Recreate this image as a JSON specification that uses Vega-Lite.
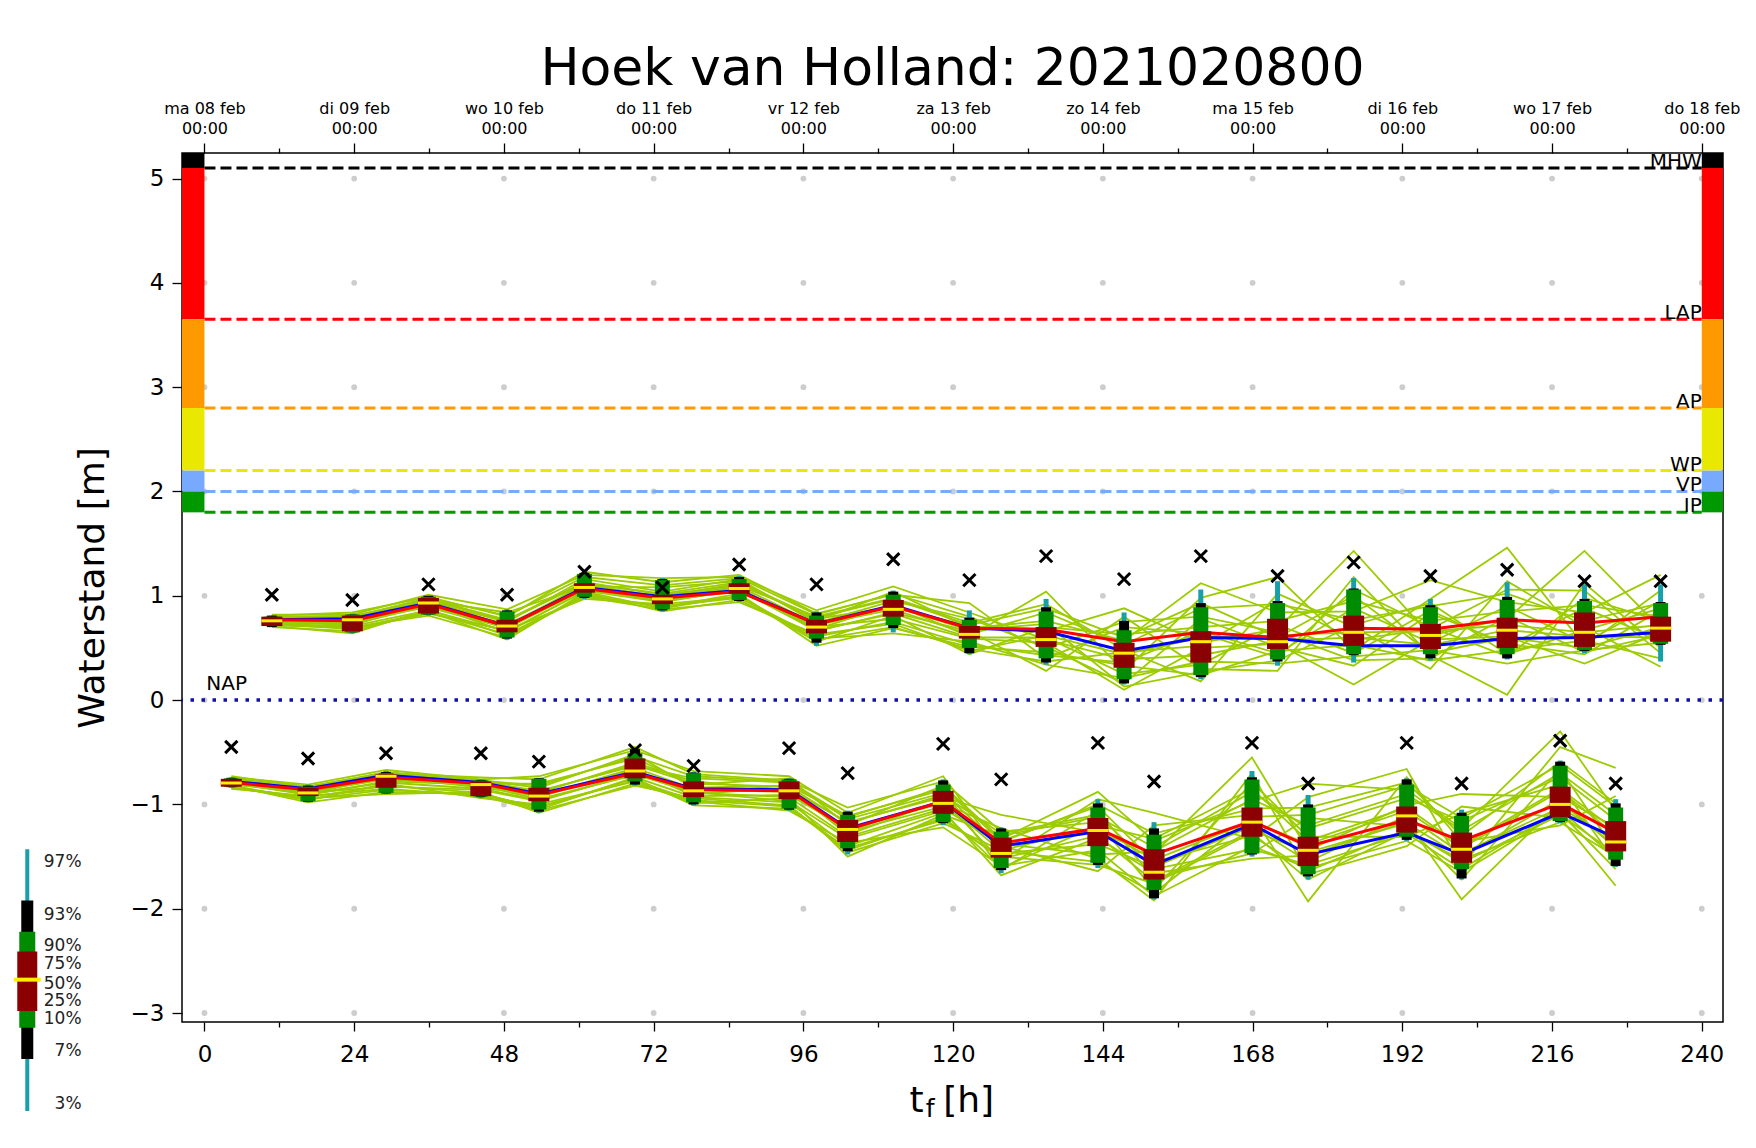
{
"$schema":"https://vega.github.io/schema/vega-lite/v6.json",
"width":1541,"height":869,
"autosize":{"type":"none"},
"padding":{"left":182,"top":153,"right":33,"bottom":126},
"background":"white",
"config":{"view":{"stroke":"black","strokeWidth":1.5},"font":"DejaVu Sans","axis":{"labelFont":"DejaVu Sans","titleFont":"DejaVu Sans","domain":false,"grid":false,"tickColor":"black","tickWidth":1.3,"labelColor":"black","titleColor":"black","labelOverlap":false,"labelFlush":false}},
"title":{"text":"Hoek van Holland: 2021020800","fontSize":52,"font":"DejaVu Sans","fontWeight":"normal","anchor":"middle","offset":4,"color":"black"},
"datasets":{
"grid":[{"gx":0,"gy":[-3,-2,-1,0,1,2,3,4,5]},{"gx":24,"gy":[-3,-2,-1,0,1,2,3,4,5]},{"gx":48,"gy":[-3,-2,-1,0,1,2,3,4,5]},{"gx":72,"gy":[-3,-2,-1,0,1,2,3,4,5]},{"gx":96,"gy":[-3,-2,-1,0,1,2,3,4,5]},{"gx":120,"gy":[-3,-2,-1,0,1,2,3,4,5]},{"gx":144,"gy":[-3,-2,-1,0,1,2,3,4,5]},{"gx":168,"gy":[-3,-2,-1,0,1,2,3,4,5]},{"gx":192,"gy":[-3,-2,-1,0,1,2,3,4,5]},{"gx":216,"gy":[-3,-2,-1,0,1,2,3,4,5]},{"gx":240,"gy":[-3,-2,-1,0,1,2,3,4,5]}],
"yt":[{"yv":-3},{"yv":-2.5},{"yv":-2},{"yv":-1.5},{"yv":-1},{"yv":-0.5},{"yv":0},{"yv":0.5},{"yv":1},{"yv":1.5},{"yv":2},{"yv":2.5},{"yv":3},{"yv":3.5},{"yv":4},{"yv":4.5},{"yv":5}],
"lv":[{"name":"MHW","y":5.1},{"name":"LAP","y":3.65},{"name":"AP","y":2.8},{"name":"WP","y":2.2},{"name":"VP","y":2.0},{"name":"IP","y":1.8}],
"bands":[{"name":"MHW","lo":5.1,"hi":5.245},{"name":"LAP","lo":3.65,"hi":5.1},{"name":"AP","lo":2.8,"hi":3.65},{"name":"WP","lo":2.2,"hi":2.8},{"name":"VP","lo":2.0,"hi":2.2},{"name":"IP","lo":1.8,"hi":2.0}],
"bx":[
{"s":"H","t":10.8,"p3":0.70,"p7":0.70,"p10":0.71,"p25":0.71,"p50":0.76,"p75":0.80,"p90":0.80,"p93":0.81,"p97":0.81,"red":0.77,"blue":0.77,"cross":1.01},
{"s":"H","t":23.7,"p3":0.64,"p7":0.65,"p10":0.65,"p25":0.66,"p50":0.77,"p75":0.81,"p90":0.82,"p93":0.82,"p97":0.83,"red":0.76,"blue":0.78,"cross":0.96},
{"s":"H","t":35.9,"p3":0.81,"p7":0.82,"p10":0.82,"p25":0.83,"p50":0.93,"p75":0.98,"p90":0.99,"p93":1.0,"p97":1.0,"red":0.92,"blue":0.93,"cross":1.11},
{"s":"H","t":48.5,"p3":0.58,"p7":0.59,"p10":0.60,"p25":0.65,"p50":0.71,"p75":0.77,"p90":0.85,"p93":0.86,"p97":0.87,"red":0.71,"blue":0.71,"cross":1.01},
{"s":"H","t":60.9,"p3":0.97,"p7":0.98,"p10":0.99,"p25":1.03,"p50":1.08,"p75":1.12,"p90":1.21,"p93":1.22,"p97":1.23,"red":1.07,"blue":1.08,"cross":1.23},
{"s":"H","t":73.4,"p3":0.85,"p7":0.86,"p10":0.87,"p25":0.92,"p50":0.97,"p75":1.01,"p90":1.15,"p93":1.16,"p97":1.17,"red":0.98,"blue":0.99,"cross":1.08},
{"s":"H","t":85.7,"p3":0.94,"p7":0.95,"p10":0.96,"p25":1.02,"p50":1.07,"p75":1.12,"p90":1.16,"p93":1.18,"p97":1.19,"red":1.04,"blue":1.05,"cross":1.30},
{"s":"H","t":98.1,"p3":0.52,"p7":0.55,"p10":0.59,"p25":0.64,"p50":0.70,"p75":0.77,"p90":0.81,"p93":0.84,"p97":0.85,"red":0.73,"blue":0.73,"cross":1.11},
{"s":"H","t":110.4,"p3":0.65,"p7":0.69,"p10":0.72,"p25":0.80,"p50":0.87,"p75":0.96,"p90":1.01,"p93":1.04,"p97":1.05,"red":0.90,"blue":0.91,"cross":1.35},
{"s":"H","t":122.6,"p3":0.44,"p7":0.45,"p10":0.50,"p25":0.59,"p50":0.63,"p75":0.71,"p90":0.77,"p93":0.79,"p97":0.86,"red":0.69,"blue":0.69,"cross":1.15},
{"s":"H","t":134.9,"p3":0.34,"p7":0.36,"p10":0.40,"p25":0.51,"p50":0.58,"p75":0.70,"p90":0.85,"p93":0.89,"p97":0.97,"red":0.68,"blue":0.66,"cross":1.38},
{"s":"H","t":147.4,"p3":0.15,"p7":0.16,"p10":0.20,"p25":0.31,"p50":0.45,"p75":0.55,"p90":0.67,"p93":0.76,"p97":0.84,"red":0.56,"blue":0.47,"cross":1.16},
{"s":"H","t":159.7,"p3":0.20,"p7":0.22,"p10":0.24,"p25":0.36,"p50":0.56,"p75":0.66,"p90":0.89,"p93":0.93,"p97":1.06,"red":0.65,"blue":0.60,"cross":1.38},
{"s":"H","t":172.0,"p3":0.33,"p7":0.37,"p10":0.39,"p25":0.49,"p50":0.56,"p75":0.78,"p90":0.93,"p93":0.95,"p97":1.14,"red":0.60,"blue":0.59,"cross":1.19},
{"s":"H","t":184.2,"p3":0.36,"p7":0.43,"p10":0.44,"p25":0.52,"p50":0.65,"p75":0.81,"p90":1.06,"p93":1.07,"p97":1.17,"red":0.69,"blue":0.52,"cross":1.32},
{"s":"H","t":196.5,"p3":0.38,"p7":0.40,"p10":0.44,"p25":0.49,"p50":0.62,"p75":0.73,"p90":0.89,"p93":0.91,"p97":0.97,"red":0.68,"blue":0.52,"cross":1.19},
{"s":"H","t":208.8,"p3":0.39,"p7":0.40,"p10":0.44,"p25":0.50,"p50":0.67,"p75":0.79,"p90":0.96,"p93":0.99,"p97":1.13,"red":0.77,"blue":0.59,"cross":1.25},
{"s":"H","t":221.2,"p3":0.45,"p7":0.47,"p10":0.48,"p25":0.51,"p50":0.65,"p75":0.84,"p90":0.95,"p93":0.97,"p97":1.11,"red":0.74,"blue":0.60,"cross":1.14},
{"s":"H","t":233.4,"p3":0.37,"p7":0.53,"p10":0.54,"p25":0.56,"p50":0.69,"p75":0.80,"p90":0.93,"p93":0.94,"p97":1.11,"red":0.80,"blue":0.65,"cross":1.14},
{"s":"L","t":4.3,"p3":-0.84,"p7":-0.835,"p10":-0.83,"p25":-0.83,"p50":-0.795,"p75":-0.755,"p90":-0.75,"p93":-0.745,"p97":-0.74,"red":-0.79,"blue":-0.78,"cross":-0.45},
{"s":"L","t":16.6,"p3":-0.98,"p7":-0.975,"p10":-0.97,"p25":-0.92,"p50":-0.89,"p75":-0.84,"p90":-0.83,"p93":-0.82,"p97":-0.81,"red":-0.86,"blue":-0.85,"cross":-0.56},
{"s":"L","t":29.1,"p3":-0.90,"p7":-0.895,"p10":-0.89,"p25":-0.84,"p50":-0.73,"p75":-0.71,"p90":-0.70,"p93":-0.69,"p97":-0.68,"red":-0.74,"blue":-0.72,"cross":-0.51},
{"s":"L","t":44.3,"p3":-0.94,"p7":-0.93,"p10":-0.925,"p25":-0.92,"p50":-0.81,"p75":-0.78,"p90":-0.77,"p93":-0.765,"p97":-0.76,"red":-0.80,"blue":-0.79,"cross":-0.51},
{"s":"L","t":53.6,"p3":-1.08,"p7":-1.07,"p10":-1.05,"p25":-0.97,"p50":-0.92,"p75":-0.84,"p90":-0.755,"p93":-0.75,"p97":-0.745,"red":-0.91,"blue":-0.90,"cross":-0.59},
{"s":"L","t":69.0,"p3":-0.82,"p7":-0.81,"p10":-0.78,"p25":-0.75,"p50":-0.68,"p75":-0.56,"p90":-0.51,"p93":-0.47,"p97":-0.46,"red":-0.70,"blue":-0.69,"cross":-0.48},
{"s":"L","t":78.4,"p3":-1.01,"p7":-1.0,"p10":-0.98,"p25":-0.93,"p50":-0.87,"p75":-0.78,"p90":-0.70,"p93":-0.695,"p97":-0.69,"red":-0.86,"blue":-0.85,"cross":-0.63},
{"s":"L","t":93.7,"p3":-1.06,"p7":-1.05,"p10":-1.04,"p25":-0.95,"p50":-0.87,"p75":-0.78,"p90":-0.76,"p93":-0.755,"p97":-0.75,"red":-0.87,"blue":-0.86,"cross":-0.46},
{"s":"L","t":103.1,"p3":-1.48,"p7":-1.45,"p10":-1.42,"p25":-1.36,"p50":-1.24,"p75":-1.15,"p90":-1.10,"p93":-1.07,"p97":-1.06,"red":-1.24,"blue":-1.23,"cross":-0.70},
{"s":"L","t":118.4,"p3":-1.20,"p7":-1.18,"p10":-1.17,"p25":-1.09,"p50":-0.99,"p75":-0.87,"p90":-0.81,"p93":-0.77,"p97":-0.76,"red":-0.97,"blue":-0.97,"cross":-0.42},
{"s":"L","t":127.7,"p3":-1.66,"p7":-1.63,"p10":-1.61,"p25":-1.51,"p50":-1.47,"p75":-1.32,"p90":-1.26,"p93":-1.23,"p97":-1.22,"red":-1.37,"blue":-1.40,"cross":-0.76},
{"s":"L","t":143.2,"p3":-1.61,"p7":-1.58,"p10":-1.56,"p25":-1.40,"p50":-1.25,"p75":-1.13,"p90":-1.03,"p93":-0.99,"p97":-0.95,"red":-1.23,"blue":-1.26,"cross":-0.41},
{"s":"L","t":152.2,"p3":-1.91,"p7":-1.90,"p10":-1.82,"p25":-1.72,"p50":-1.65,"p75":-1.43,"p90":-1.29,"p93":-1.23,"p97":-1.17,"red":-1.48,"blue":-1.58,"cross":-0.78},
{"s":"L","t":167.9,"p3":-1.50,"p7":-1.48,"p10":-1.47,"p25":-1.31,"p50":-1.17,"p75":-1.03,"p90":-0.76,"p93":-0.74,"p97":-0.68,"red":-1.16,"blue":-1.19,"cross":-0.41},
{"s":"L","t":176.9,"p3":-1.72,"p7":-1.69,"p10":-1.67,"p25":-1.59,"p50":-1.44,"p75":-1.31,"p90":-1.03,"p93":-1.00,"p97":-0.91,"red":-1.40,"blue":-1.48,"cross":-0.80},
{"s":"L","t":192.7,"p3":-1.35,"p7":-1.34,"p10":-1.31,"p25":-1.27,"p50":-1.11,"p75":-1.02,"p90":-0.81,"p93":-0.76,"p97":-0.75,"red":-1.15,"blue":-1.27,"cross":-0.41},
{"s":"L","t":201.5,"p3":-1.72,"p7":-1.71,"p10":-1.62,"p25":-1.56,"p50":-1.43,"p75":-1.27,"p90":-1.11,"p93":-1.08,"p97":-1.05,"red":-1.35,"blue":-1.48,"cross":-0.80},
{"s":"L","t":217.3,"p3":-1.18,"p7":-1.17,"p10":-1.16,"p25":-1.12,"p50":-1.00,"p75":-0.83,"p90":-0.63,"p93":-0.59,"p97":-0.58,"red":-0.99,"blue":-1.08,"cross":-0.39},
{"s":"L","t":226.2,"p3":-1.60,"p7":-1.59,"p10":-1.53,"p25":-1.45,"p50":-1.36,"p75":-1.16,"p90":-1.03,"p93":-0.99,"p97":-0.95,"red":-1.27,"blue":-1.32,"cross":-0.80}
],
"ens":[
{"s":"H","t":10.8,"a":0.70,"b":0.71,"c":0.72,"d":0.73,"e":0.74,"f":0.75,"g":0.76,"h":0.76,"i":0.77,"j":0.78,"k":0.79,"l":0.80,"m":0.81,"n":0.82,"o":0.72,"p":0.75,"q":0.78,"r":0.73,"u":0.77,"w":0.80},
{"s":"H","t":23.7,"a":0.66,"b":0.64,"c":0.70,"d":0.68,"e":0.74,"f":0.72,"g":0.77,"h":0.75,"i":0.79,"j":0.78,"k":0.81,"l":0.80,"m":0.84,"n":0.82,"o":0.69,"p":0.73,"q":0.79,"r":0.71,"u":0.76,"w":0.80},
{"s":"H","t":35.9,"a":0.85,"b":0.87,"c":0.81,"d":0.83,"e":0.92,"f":0.93,"g":0.89,"h":0.91,"i":0.96,"j":0.97,"k":0.94,"l":0.95,"m":0.99,"n":1.01,"o":0.84,"p":0.90,"q":0.96,"r":0.86,"u":0.93,"w":0.98},
{"s":"H","t":48.5,"a":0.58,"b":0.62,"c":0.60,"d":0.67,"e":0.65,"f":0.70,"g":0.69,"h":0.73,"i":0.71,"j":0.77,"k":0.75,"l":0.84,"m":0.80,"n":0.87,"o":0.63,"p":0.69,"q":0.76,"r":0.66,"u":0.72,"w":0.81},
{"s":"H","t":60.9,"a":1.03,"b":0.99,"c":1.01,"d":0.97,"e":1.05,"f":1.07,"g":1.08,"h":1.06,"i":1.11,"j":1.13,"k":1.16,"l":1.09,"m":1.23,"n":1.20,"o":1.00,"p":1.06,"q":1.12,"r":1.04,"u":1.09,"w":1.18},
{"s":"H","t":73.4,"a":0.85,"b":0.87,"c":0.89,"d":0.92,"e":0.94,"f":0.96,"g":0.97,"h":0.98,"i":0.99,"j":1.01,"k":1.04,"l":1.08,"m":1.13,"n":1.17,"o":0.90,"p":0.95,"q":1.02,"r":0.88,"u":0.99,"w":1.10},
{"s":"H","t":85.7,"a":0.96,"b":0.94,"c":1.02,"d":0.99,"e":1.06,"f":1.04,"g":1.08,"h":1.07,"i":1.12,"j":1.10,"k":1.16,"l":1.14,"m":1.20,"n":1.18,"o":0.98,"p":1.05,"q":1.13,"r":1.00,"u":1.09,"w":1.17},
{"s":"H","t":98.1,"a":0.59,"b":0.63,"c":0.52,"d":0.56,"e":0.70,"f":0.72,"g":0.66,"h":0.68,"i":0.78,"j":0.80,"k":0.74,"l":0.76,"m":0.83,"n":0.86,"o":0.61,"p":0.67,"q":0.79,"r":0.58,"u":0.73,"w":0.82},
{"s":"H","t":110.4,"a":0.64,"b":0.73,"c":0.69,"d":0.81,"e":0.78,"f":0.87,"g":0.84,"h":0.92,"i":0.89,"j":0.98,"k":0.95,"l":1.04,"m":1.01,"n":1.09,"o":0.75,"p":0.83,"q":0.97,"r":0.70,"u":0.90,"w":1.02},
{"s":"H","t":122.6,"a":0.56,"b":0.47,"c":0.51,"d":0.44,"e":0.59,"f":0.63,"g":0.66,"h":0.61,"i":0.71,"j":0.74,"k":0.78,"l":0.69,"m":0.93,"n":0.84,"o":0.53,"p":0.60,"q":0.72,"r":0.49,"u":0.67,"w":0.80},
{"s":"H","t":134.9,"a":0.34,"b":0.62,"c":0.46,"d":0.70,"e":0.55,"f":0.84,"g":0.28,"h":1.04,"i":0.66,"j":0.92,"k":0.51,"l":0.76,"m":0.40,"n":0.58,"o":0.43,"p":0.60,"q":0.88,"r":0.37,"u":0.73,"w":0.50},
{"s":"H","t":147.4,"a":0.21,"b":0.44,"c":0.33,"d":0.63,"e":0.10,"f":0.53,"g":0.80,"h":0.28,"i":0.88,"j":0.48,"k":0.16,"l":0.57,"m":0.70,"n":0.39,"o":0.36,"p":0.25,"q":0.60,"r":0.46,"u":0.13,"w":0.75},
{"s":"H","t":159.7,"a":0.37,"b":0.60,"c":0.24,"d":0.70,"e":0.50,"f":0.88,"g":0.30,"h":0.98,"i":0.55,"j":0.18,"k":0.78,"l":1.12,"m":0.64,"n":0.43,"o":0.66,"p":0.34,"q":0.93,"r":0.52,"u":0.27,"w":0.80},
{"s":"H","t":172.0,"a":0.35,"b":0.62,"c":0.47,"d":0.76,"e":0.54,"f":0.92,"g":0.28,"h":1.18,"i":0.68,"j":1.02,"k":0.51,"l":0.84,"m":0.41,"n":0.57,"o":0.45,"p":0.72,"q":0.60,"r":0.95,"u":0.38,"w":0.65},
{"s":"H","t":184.2,"a":0.42,"b":0.65,"c":0.53,"d":0.95,"e":0.15,"f":0.77,"g":1.18,"h":0.48,"i":1.43,"j":0.70,"k":0.33,"l":0.85,"m":1.06,"n":0.60,"o":0.88,"p":0.45,"q":1.00,"r":0.58,"u":0.72,"w":0.38},
{"s":"H","t":196.5,"a":0.48,"b":0.66,"c":0.38,"d":0.76,"e":0.58,"f":0.90,"g":0.43,"h":0.97,"i":0.62,"j":0.30,"k":0.83,"l":1.15,"m":0.70,"n":0.53,"o":0.55,"p":0.86,"q":0.45,"r":0.68,"u":0.93,"w":0.40},
{"s":"H","t":208.8,"a":0.35,"b":0.72,"c":0.48,"d":0.85,"e":0.61,"f":1.02,"g":0.05,"h":1.46,"i":0.78,"j":1.14,"k":0.54,"l":0.94,"m":0.42,"n":0.67,"o":0.90,"p":0.52,"q":0.60,"r":1.06,"u":0.44,"w":0.80},
{"s":"H","t":221.2,"a":0.48,"b":0.65,"c":0.57,"d":0.91,"e":0.35,"f":0.76,"g":1.12,"h":0.52,"i":1.43,"j":0.70,"k":0.44,"l":0.84,"m":0.98,"n":0.61,"o":0.55,"p":0.88,"q":0.50,"r":1.05,"u":0.67,"w":0.46},
{"s":"H","t":233.4,"a":0.55,"b":0.72,"c":0.40,"d":0.80,"e":0.65,"f":0.93,"g":0.50,"h":1.05,"i":0.69,"j":0.32,"k":0.86,"l":1.20,"m":0.76,"n":0.60,"o":0.95,"p":0.58,"q":0.70,"r":0.45,"u":0.88,"w":0.62},
{"s":"L","t":4.3,"a":-0.84,"b":-0.85,"c":-0.82,"d":-0.83,"e":-0.80,"f":-0.81,"g":-0.79,"h":-0.79,"i":-0.77,"j":-0.78,"k":-0.75,"l":-0.76,"m":-0.73,"n":-0.74,"o":-0.82,"p":-0.80,"q":-0.77,"r":-0.84,"u":-0.78,"w":-0.75},
{"s":"L","t":16.6,"a":-0.94,"b":-0.92,"c":-0.98,"d":-0.96,"e":-0.89,"f":-0.88,"g":-0.91,"h":-0.90,"i":-0.85,"j":-0.84,"k":-0.87,"l":-0.86,"m":-0.83,"n":-0.81,"o":-0.95,"p":-0.90,"q":-0.85,"r":-0.93,"u":-0.88,"w":-0.83},
{"s":"L","t":29.1,"a":-0.90,"b":-0.85,"c":-0.88,"d":-0.80,"e":-0.83,"f":-0.76,"g":-0.78,"h":-0.73,"i":-0.74,"j":-0.71,"k":-0.72,"l":-0.69,"m":-0.70,"n":-0.67,"o":-0.86,"p":-0.79,"q":-0.72,"r":-0.82,"u":-0.75,"w":-0.69},
{"s":"L","t":44.3,"a":-0.88,"b":-0.92,"c":-0.90,"d":-0.94,"e":-0.86,"f":-0.82,"g":-0.81,"h":-0.84,"i":-0.79,"j":-0.78,"k":-0.77,"l":-0.80,"m":-0.74,"n":-0.76,"o":-0.91,"p":-0.85,"q":-0.79,"r":-0.89,"u":-0.82,"w":-0.77},
{"s":"L","t":53.6,"a":-1.08,"b":-1.06,"c":-1.03,"d":-1.00,"e":-0.97,"f":-0.95,"g":-0.93,"h":-0.91,"i":-0.89,"j":-0.87,"k":-0.84,"l":-0.80,"m":-0.76,"n":-0.73,"o":-1.02,"p":-0.96,"q":-0.88,"r":-1.05,"u":-0.92,"w":-0.82},
{"s":"L","t":69.0,"a":-0.80,"b":-0.82,"c":-0.75,"d":-0.78,"e":-0.70,"f":-0.72,"g":-0.66,"h":-0.68,"i":-0.60,"j":-0.63,"k":-0.52,"l":-0.56,"m":-0.45,"n":-0.48,"o":-0.77,"p":-0.71,"q":-0.62,"r":-0.74,"u":-0.65,"w":-0.54},
{"s":"L","t":78.4,"a":-0.97,"b":-0.94,"c":-1.01,"d":-0.99,"e":-0.88,"f":-0.86,"g":-0.92,"h":-0.90,"i":-0.78,"j":-0.75,"k":-0.84,"l":-0.81,"m":-0.71,"n":-0.68,"o":-0.96,"p":-0.89,"q":-0.80,"r":-0.93,"u":-0.85,"w":-0.73},
{"s":"L","t":93.7,"a":-1.06,"b":-1.01,"c":-1.04,"d":-0.94,"e":-0.97,"f":-0.88,"g":-0.91,"h":-0.84,"i":-0.86,"j":-0.79,"k":-0.82,"l":-0.75,"m":-0.77,"n":-0.73,"o":-1.02,"p":-0.93,"q":-0.83,"r":-0.98,"u":-0.87,"w":-0.78},
{"s":"L","t":103.1,"a":-1.37,"b":-1.46,"c":-1.42,"d":-1.50,"e":-1.33,"f":-1.26,"g":-1.23,"h":-1.29,"i":-1.17,"j":-1.14,"k":-1.11,"l":-1.20,"m":-1.03,"n":-1.08,"o":-1.44,"p":-1.31,"q":-1.18,"r":-1.40,"u":-1.25,"w":-1.12},
{"s":"L","t":118.4,"a":-1.22,"b":-1.18,"c":-1.15,"d":-1.10,"e":-1.06,"f":-1.02,"g":-0.99,"h":-0.96,"i":-0.93,"j":-0.89,"k":-0.86,"l":-0.82,"m":-0.78,"n":-0.73,"o":-1.13,"p":-1.04,"q":-0.91,"r":-1.08,"u":-0.97,"w":-0.84},
{"s":"L","t":127.7,"a":-1.59,"b":-1.44,"c":-1.50,"d":-1.30,"e":-1.68,"f":-1.36,"g":-1.23,"h":-1.54,"i":-1.10,"j":-1.40,"k":-1.63,"l":-1.33,"m":-1.26,"n":-1.47,"o":-1.52,"p":-1.38,"q":-1.28,"r":-1.61,"u":-1.45,"w":-1.35},
{"s":"L","t":143.2,"a":-1.44,"b":-1.22,"c":-1.58,"d":-1.12,"e":-1.32,"f":-1.00,"g":-1.52,"h":-0.95,"i":-1.27,"j":-1.64,"k":-1.06,"l":-0.88,"m":-1.17,"n":-1.38,"o":-1.30,"p":-1.48,"q":-1.10,"r":-1.20,"u":-1.55,"w":-1.02},
{"s":"L","t":152.2,"a":-1.88,"b":-1.53,"c":-1.76,"d":-1.41,"e":-1.66,"f":-1.28,"g":-1.92,"h":-1.08,"i":-1.47,"j":-1.20,"k":-1.71,"l":-1.35,"m":-1.82,"n":-1.60,"o":-1.74,"p":-1.45,"q":-1.62,"r":-1.33,"u":-1.85,"w":-1.55},
{"s":"L","t":167.9,"a":-1.40,"b":-1.16,"c":-1.27,"d":-0.88,"e":-1.52,"f":-1.04,"g":-0.70,"h":-1.33,"i":-0.55,"j":-1.10,"k":-1.47,"l":-0.97,"m":-0.79,"n":-1.21,"o":-1.25,"p":-0.95,"q":-1.43,"r":-0.85,"u":-1.12,"w":-1.30},
{"s":"L","t":176.9,"a":-1.61,"b":-1.38,"c":-1.72,"d":-1.23,"e":-1.49,"f":-1.03,"g":-1.67,"h":-0.93,"i":-1.44,"j":-1.93,"k":-1.13,"l":-0.80,"m":-1.31,"n":-1.55,"o":-1.46,"p":-1.20,"q":-1.58,"r":-1.35,"u":-1.10,"w":-1.64},
{"s":"L","t":192.7,"a":-1.35,"b":-1.06,"c":-1.26,"d":-0.94,"e":-1.16,"f":-0.79,"g":-1.40,"h":-0.66,"i":-1.01,"j":-0.74,"k":-1.21,"l":-0.86,"m":-1.31,"n":-1.11,"o":-1.18,"p":-0.90,"q":-1.28,"r":-1.03,"u":-0.82,"w":-1.24},
{"s":"L","t":201.5,"a":-1.65,"b":-1.42,"c":-1.53,"d":-1.16,"e":-1.91,"f":-1.30,"g":-1.02,"h":-1.59,"i":-0.90,"j":-1.36,"k":-1.72,"l":-1.23,"m":-1.09,"n":-1.47,"o":-1.50,"p":-1.25,"q":-1.62,"r":-1.40,"u":-1.13,"w":-1.56},
{"s":"L","t":217.3,"a":-1.08,"b":-0.87,"c":-1.17,"d":-0.74,"e":-0.98,"f":-0.59,"g":-1.13,"h":-0.45,"i":-0.93,"j":-1.20,"k":-0.66,"l":-0.30,"m":-0.81,"n":-1.03,"o":-0.95,"p":-0.70,"q":-1.05,"r":-0.85,"u":-0.62,"w":-1.10},
{"s":"L","t":226.2,"a":-1.62,"b":-1.29,"c":-1.50,"d":-1.15,"e":-1.40,"f":-0.99,"g":-1.78,"h":-0.65,"i":-1.22,"j":-0.92,"k":-1.45,"l":-1.06,"m":-1.56,"n":-1.35,"o":-1.42,"p":-1.10,"q":-1.52,"r":-1.25,"u":-1.02,"w":-1.47}
],
"lg":[{"lx":-28.4,"q3":-3.94,"q7":-3.44,"q10":-3.14,"q25":-2.98,"q50":-2.68,"q75":-2.41,"q90":-2.22,"q93":-1.92,"q97":-1.43}],
"lgl":[{"lab":"97%","ly":-1.556},{"lab":"93%","ly":-2.064},{"lab":"90%","ly":-2.361},{"lab":"75%","ly":-2.534},{"lab":"50%","ly":-2.725},{"lab":"25%","ly":-2.888},{"lab":"10%","ly":-3.061},{"lab":"7%","ly":-3.368},{"lab":"3%","ly":-3.876}],
"xt":[{"txt":"t","tx":113.0,"ty":-3.95,"sz":"big"},{"txt":"f","tx":115.6,"ty":-4.0,"sz":"sub"},{"txt":"[h]","tx":118.4,"ty":-3.95,"sz":"big"}]
},
"layer":[
{"data":{"name":"yt"},"mark":{"type":"point","opacity":0,"size":1},
 "encoding":{
  "x":{"datum":0,"type":"quantitative","scale":{"domain":[-3.6,243.4],"nice":false,"zero":false},"axis":null},
  "y":{"field":"yv","type":"quantitative","scale":{"domain":[-3.086,5.245],"nice":false,"zero":false},
   "axis":{"orient":"left","values":[-3,-2.5,-2,-1.5,-1,-0.5,0,0.5,1,1.5,2,2.5,3,3.5,4,4.5,5],"labelExpr":"datum.value % 1 === 0 ? datum.label : ''","format":"d","labelFontSize":23,"labelPadding":8,"tickSize":{"condition":{"test":"datum.value % 1 === 0","value":10},"value":5},"title":"Waterstand [m]","titleFontSize":36,"titleFontWeight":"normal","titlePadding":19}}
 }},
{"data":{"name":"grid"},"transform":[{"flatten":["gy"]}],
 "mark":{"type":"point","filled":true,"size":34,"color":"#cdcdcd","opacity":1},
 "encoding":{
  "x":{"field":"gx","type":"quantitative",
   "axis":{"orient":"bottom","values":[0,12,24,36,48,60,72,84,96,108,120,132,144,156,168,180,192,204,216,228,240],"format":"d","labelExpr":"datum.value % 24 === 0 ? datum.label : ''","labelFontSize":23,"labelPadding":12,"tickSize":{"condition":{"test":"datum.value % 24 === 0","value":9},"value":5},"title":null}},
  "y":{"field":"gy","type":"quantitative","axis":null}
 }},
{"data":{"values":[{}]},"mark":{"type":"rule","color":"#1010a8","strokeWidth":3.5,"strokeDash":[3.5,7.5]},
 "encoding":{"y":{"datum":0,"type":"quantitative","axis":null}}},
{"data":{"name":"lv"},"mark":{"type":"rule","strokeWidth":3,"strokeDash":[11,5]},
 "encoding":{"x":{"datum":0,"type":"quantitative","axis":null},"x2":{"datum":240},"y":{"field":"y","type":"quantitative","axis":null},
  "color":{"field":"name","type":"nominal","scale":{"domain":["MHW","LAP","AP","WP","VP","IP"],"range":["#000000","#ff0000","#ff9900","#e8e800","#77aaff","#009900"]},"legend":null}}},
{"data":{"name":"ens"},"transform":[{"fold":["a","b","c","d","e","f","g","h","i","j","k","l","m","n","o","p","q","r","u","w"],"as":["mem","v"]}],
 "mark":{"type":"line","color":"#9ccc00","strokeWidth":1.8},
 "encoding":{
  "x":{"field":"t","type":"quantitative","axis":{"orient":"top","values":[0,12,24,36,48,60,72,84,96,108,120,132,144,156,168,180,192,204,216,228,240],"labelExpr":"datum.value % 24 === 0 ? [['ma 08 feb','00:00'],['di 09 feb','00:00'],['wo 10 feb','00:00'],['do 11 feb','00:00'],['vr 12 feb','00:00'],['za 13 feb','00:00'],['zo 14 feb','00:00'],['ma 15 feb','00:00'],['di 16 feb','00:00'],['wo 17 feb','00:00'],['do 18 feb','00:00']][datum.value/24] : ''","labelFontSize":16,"labelLineHeight":20,"labelPadding":27,"tickSize":{"condition":{"test":"datum.value % 24 === 0","value":10},"value":5},"title":null}},
  "y":{"field":"v","type":"quantitative","axis":null},
  "detail":[{"field":"s"},{"field":"mem"}]}},
{"data":{"name":"bx"},"mark":{"type":"line","color":"#0000ff","strokeWidth":3},
 "encoding":{"x":{"field":"t","type":"quantitative","axis":null},"y":{"field":"blue","type":"quantitative","axis":null},"detail":{"field":"s"}}},
{"data":{"name":"bx"},"mark":{"type":"line","color":"#ff0000","strokeWidth":3},
 "encoding":{"x":{"field":"t","type":"quantitative","axis":null},"y":{"field":"red","type":"quantitative","axis":null},"detail":{"field":"s"}}},
{"data":{"name":"bx"},"mark":{"type":"rule","color":"#18a0aa","strokeWidth":5},
 "encoding":{"x":{"field":"t","type":"quantitative","axis":null},"y":{"field":"p3","type":"quantitative","axis":null},"y2":{"field":"p97"}}},
{"data":{"name":"bx"},"mark":{"type":"rule","color":"#000000","strokeWidth":10},
 "encoding":{"x":{"field":"t","type":"quantitative","axis":null},"y":{"field":"p7","type":"quantitative","axis":null},"y2":{"field":"p93"}}},
{"data":{"name":"bx"},"mark":{"type":"rule","color":"#008c00","strokeWidth":15},
 "encoding":{"x":{"field":"t","type":"quantitative","axis":null},"y":{"field":"p10","type":"quantitative","axis":null},"y2":{"field":"p90"}}},
{"data":{"name":"bx"},"mark":{"type":"rule","color":"#8b0000","strokeWidth":21},
 "encoding":{"x":{"field":"t","type":"quantitative","axis":null},"y":{"field":"p25","type":"quantitative","axis":null},"y2":{"field":"p75"}}},
{"data":{"name":"bx"},"mark":{"type":"tick","orient":"horizontal","color":"#ffee00","size":21,"thickness":3,"opacity":1},
 "encoding":{"x":{"field":"t","type":"quantitative","axis":null},"y":{"field":"p50","type":"quantitative","axis":null}}},
{"data":{"name":"bx"},"mark":{"type":"point","shape":"M-1,-1L1,1M-1,1L1,-1","filled":false,"stroke":"black","strokeWidth":3,"size":150,"opacity":1},
 "encoding":{"x":{"field":"t","type":"quantitative","axis":null},"y":{"field":"cross","type":"quantitative","axis":null}}},
{"data":{"name":"bands"},"mark":{"type":"rect"},
 "encoding":{"x":{"datum":-3.6,"type":"quantitative","axis":null},"x2":{"datum":0},"y":{"field":"lo","type":"quantitative","axis":null},"y2":{"field":"hi"},
  "color":{"field":"name","type":"nominal","legend":null}}},
{"data":{"name":"bands"},"mark":{"type":"rect"},
 "encoding":{"x":{"datum":240,"type":"quantitative","axis":null},"x2":{"datum":243.4},"y":{"field":"lo","type":"quantitative","axis":null},"y2":{"field":"hi"},
  "color":{"field":"name","type":"nominal","legend":null}}},
{"data":{"name":"lv"},"mark":{"type":"text","align":"right","baseline":"alphabetic","fontSize":20,"color":"black","font":"DejaVu Sans"},
 "encoding":{"x":{"datum":240,"type":"quantitative","axis":null},"y":{"field":"y","type":"quantitative","axis":null},"text":{"field":"name"}}},
{"data":{"values":[{"lab":"NAP"}]},"mark":{"type":"text","align":"left","baseline":"alphabetic","fontSize":20,"color":"black","font":"DejaVu Sans"},
 "encoding":{"x":{"datum":0.3,"type":"quantitative","axis":null},"y":{"datum":0.1,"type":"quantitative","axis":null},"text":{"field":"lab"}}},
{"data":{"name":"lg"},"mark":{"type":"rule","color":"#18a0aa","strokeWidth":4},
 "encoding":{"x":{"field":"lx","type":"quantitative","axis":null},"y":{"field":"q3","type":"quantitative","axis":null},"y2":{"field":"q97"}}},
{"data":{"name":"lg"},"mark":{"type":"rule","color":"#000000","strokeWidth":12},
 "encoding":{"x":{"field":"lx","type":"quantitative","axis":null},"y":{"field":"q7","type":"quantitative","axis":null},"y2":{"field":"q93"}}},
{"data":{"name":"lg"},"mark":{"type":"rule","color":"#008c00","strokeWidth":16},
 "encoding":{"x":{"field":"lx","type":"quantitative","axis":null},"y":{"field":"q10","type":"quantitative","axis":null},"y2":{"field":"q90"}}},
{"data":{"name":"lg"},"mark":{"type":"rule","color":"#8b0000","strokeWidth":20},
 "encoding":{"x":{"field":"lx","type":"quantitative","axis":null},"y":{"field":"q25","type":"quantitative","axis":null},"y2":{"field":"q75"}}},
{"data":{"name":"lg"},"mark":{"type":"tick","orient":"horizontal","color":"#ffee00","size":27,"thickness":4,"opacity":1},
 "encoding":{"x":{"field":"lx","type":"quantitative","axis":null},"y":{"field":"q50","type":"quantitative","axis":null}}},
{"data":{"name":"lgl"},"mark":{"type":"text","align":"right","baseline":"middle","fontSize":17,"color":"#222222","font":"DejaVu Sans"},
 "encoding":{"x":{"datum":-19.7,"type":"quantitative","axis":null},"y":{"field":"ly","type":"quantitative","axis":null},"text":{"field":"lab"}}},
{"data":{"name":"xt"},"mark":{"type":"text","align":"left","baseline":"alphabetic","color":"black","font":"DejaVu Sans"},
 "encoding":{"x":{"field":"tx","type":"quantitative","axis":null},"y":{"field":"ty","type":"quantitative","axis":null},"text":{"field":"txt"},
  "size":{"field":"sz","type":"nominal","scale":{"domain":["big","sub"],"range":[36,25]},"legend":null}}}
],
"resolve":{"axis":{"x":"independent","y":"independent"}}
}
